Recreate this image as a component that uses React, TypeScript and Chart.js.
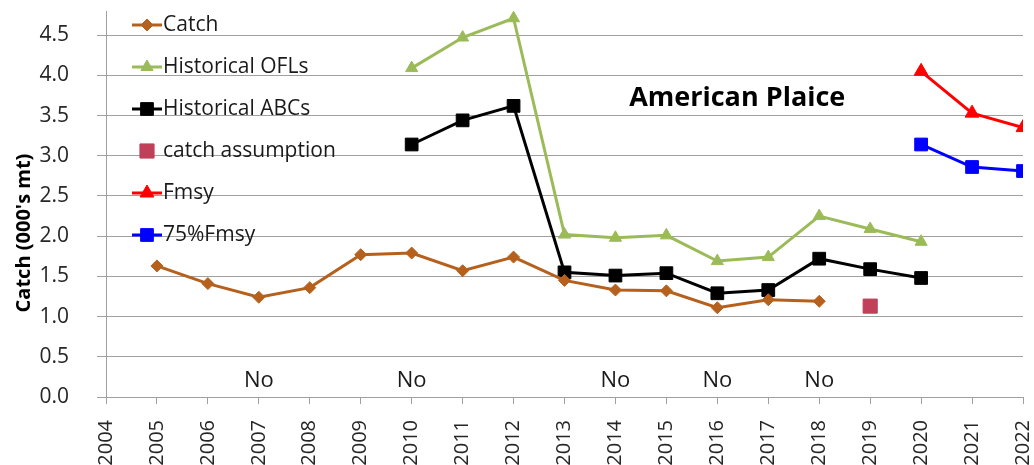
import React, { useEffect, useRef } from "react";
import { Chart, registerables } from "chart.js";
import { drawPoint } from "chart.js/helpers";

Chart.register(...registerables);

const catchYears = [2005, 2006, 2007, 2008, 2009, 2010, 2011, 2012, 2013, 2014, 2015, 2016, 2017, 2018];
const catchValues = [1.63, 1.41, 1.24, 1.36, 1.77, 1.79, 1.57, 1.74, 1.45, 1.33, 1.32, 1.11, 1.21, 1.19];
const oflYears = [2010, 2011, 2012, 2013, 2014, 2015, 2016, 2017, 2018, 2019, 2020];
const oflValues = [4.09, 4.47, 4.71, 2.02, 1.98, 2.01, 1.69, 1.74, 2.25, 2.09, 1.93];
const abcYears = [2010, 2011, 2012, 2013, 2014, 2015, 2016, 2017, 2018, 2019, 2020];
const abcValues = [3.14, 3.44, 3.62, 1.55, 1.51, 1.54, 1.29, 1.33, 1.72, 1.59, 1.48];
const assumptionYears = [2019];
const assumptionValues = [1.13];
const fmsyYears = [2020, 2021, 2022];
const fmsyValues = [4.05, 3.53, 3.35];
const f75Years = [2020, 2021, 2022];
const f75Values = [3.14, 2.86, 2.81];
const noYears = [2007, 2010, 2014, 2016, 2018];
const noLabel = "No";
const chartTitle = "American Plaice";
const yTitle = "Catch (000's mt)";

const FONT = "'Open Sans', sans-serif";

function pts(xs: number[], ys: number[]) {
  return xs.map((x, i) => ({ x, y: ys[i] }));
}

const overlayPlugin = {
  id: "overlay",
  afterDatasetsDraw(chart: any) {
    const { ctx, chartArea, scales } = chart;
    const xs = scales.x;
    const ys = scales.y;
    ctx.save();
    // "No" labels
    ctx.font = `22px ${FONT}`;
    ctx.fillStyle = "#1a1a1a";
    ctx.textAlign = "center";
    ctx.textBaseline = "middle";
    noYears.forEach((yr) => {
      ctx.fillText(noLabel, xs.getPixelForValue(yr), ys.getPixelForValue(0.2));
    });
    // title
    ctx.font = `bold 27px ${FONT}`;
    ctx.fillStyle = "#000";
    ctx.fillText(chartTitle, xs.getPixelForValue(2016.39), ys.getPixelForValue(3.72));
    // y title
    ctx.save();
    ctx.translate(24, 233);
    ctx.rotate(-Math.PI / 2);
    ctx.font = `bold 20px ${FONT}`;
    ctx.fillStyle = "#000";
    ctx.fillText(yTitle, 0, 0);
    ctx.restore();
    // legend
    const left = chartArea.left;
    const top = chartArea.top;
    chart.data.datasets.forEach((ds: any, i: number) => {
      const y = top + 14 + i * 42;
      const x0 = left + 26;
      const x1 = left + 56;
      ctx.strokeStyle = ds.borderColor;
      ctx.lineWidth = 3;
      if (ds.showLine !== false) {
        ctx.beginPath();
        ctx.moveTo(x0, y);
        ctx.lineTo(x1, y);
        ctx.stroke();
      }
      ctx.fillStyle = ds.pointBackgroundColor;
      ctx.strokeStyle = ds.pointBorderColor;
      ctx.lineWidth = 1;
      drawPoint(ctx, { pointStyle: ds.pointStyle, radius: ds.pointRadius, rotation: 0, borderWidth: 1 }, (x0 + x1) / 2, y);
      ctx.font = `21px ${FONT}`;
      ctx.fillStyle = "#1a1a1a";
      ctx.textAlign = "left";
      ctx.textBaseline = "middle";
      ctx.fillText(ds.label, x1 + 1, y);
    });
    ctx.restore();
  },
};

function series(label: string, data: any[], color: string, style: string, radius: number, showLine = true) {
  return {
    label,
    data,
    borderColor: color,
    backgroundColor: color,
    pointBackgroundColor: color,
    pointBorderColor: color,
    pointStyle: style,
    pointRadius: radius,
    pointBorderWidth: 1,
    borderWidth: 3,
    showLine,
  };
}

export default function App() {
  const ref = useRef<HTMLCanvasElement>(null);
  useEffect(() => {
    if (!ref.current) return;
    const chart = new Chart(ref.current, {
      type: "line",
      data: {
        datasets: [
          series("Catch", pts(catchYears, catchValues), "#B5611D", "rectRot", 6),
          series("Historical OFLs", pts(oflYears, oflValues), "#9BBB59", "triangle", 7),
          series("Historical ABCs", pts(abcYears, abcValues), "#000000", "rect", 9),
          series("catch assumption", pts(assumptionYears, assumptionValues), "#C0405A", "rect", 10, false),
          series("Fmsy", pts(fmsyYears, fmsyValues), "#FF0000", "triangle", 8),
          series("75%Fmsy", pts(f75Years, f75Values), "#0000FF", "rect", 9),
        ] as any,
      },
      options: {
        animation: false,
        responsive: false,
        maintainAspectRatio: false,
        layout: { padding: { top: 8, right: 11, bottom: 0, left: 0 } },
        plugins: { legend: { display: false }, tooltip: { enabled: false } },
        scales: {
          x: {
            type: "linear",
            min: 2004,
            max: 2022,
            afterFit: (s: any) => { s.height = 68; s.paddingLeft = 0; s.paddingRight = 0; },
            ticks: {
              stepSize: 1,
              autoSkip: false,
              minRotation: 90,
              maxRotation: 90,
              padding: 16,
              color: "#262626",
              font: { family: FONT, size: 20 },
              callback: (v: any) => String(v),
            },
            grid: { drawOnChartArea: false, drawTicks: true, tickLength: 7, color: "#A0A0A0" },
            border: { color: "#A0A0A0", width: 1 },
          },
          y: {
            min: 0,
            max: 4.8,
            afterFit: (s: any) => { s.width = 106; s.paddingTop = 0; s.paddingBottom = 0; },
            afterBuildTicks: (s: any) => {
              s.ticks = s.ticks.filter((t: any) => Math.abs(t.value * 2 - Math.round(t.value * 2)) < 1e-6);
            },
            ticks: {
              stepSize: 0.5,
              padding: 28,
              color: "#262626",
              font: { family: FONT, size: 21 },
              callback: (v: any) => Number(v).toFixed(1),
            },
            grid: { color: "#A0A0A0", tickLength: 9, lineWidth: 1 },
            border: { color: "#A0A0A0", width: 1 },
          },
        },
      },
      plugins: [overlayPlugin],
    });
    return () => chart.destroy();
  }, []);
  return (
    <div style={{ position: "absolute", left: 0, top: 0, width: 1034, height: 465, background: "#fff" }}>
      <canvas ref={ref} width={1034} height={465} style={{ width: 1034, height: 465 }} />
    </div>
  );
}
